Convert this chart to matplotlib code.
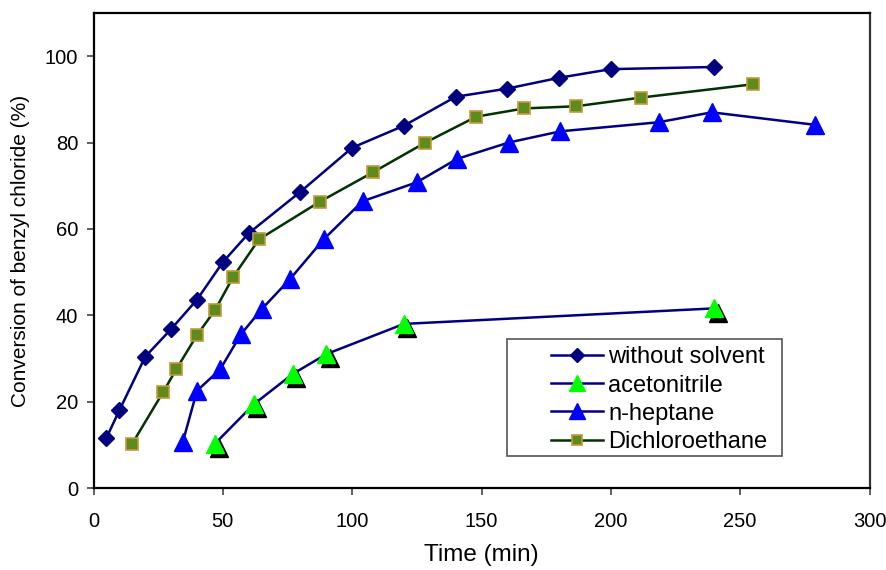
import matplotlib
matplotlib.use("Agg")
from matplotlib import pyplot as plt
from matplotlib import transforms
from matplotlib.patches import Rectangle

plt.rcParams["font.family"] = ["Liberation Sans", "DejaVu Sans"]

# without solvent
t_neat = [5, 10, 20, 30, 40, 50, 60, 80, 100, 120, 140, 160, 180, 200, 240]
c_neat = [11.6, 18.0, 30.4, 36.8, 43.6, 52.3, 59.0, 68.6, 78.8, 83.9, 90.6, 92.5, 95.0, 97.0, 97.5]

# acetonitrile
t_acn = [47, 62, 77, 90, 120, 240]
c_acn = [10.3, 19.4, 26.4, 31.0, 38.0, 41.6]

# n-heptane
t_hep = [34.5, 40, 49, 57, 65, 76, 89, 104, 125, 140.5, 160.5, 180.5, 218.5, 239, 279]
c_hep = [10.6, 22.5, 27.5, 35.6, 41.4, 48.4, 57.6, 66.4, 70.8, 76.2, 80.0, 82.6, 84.7, 87.0, 84.1]

# dichloroethane
t_dce = [15, 27, 32, 40, 47, 54, 64, 87.5, 108, 128, 148, 166.5, 186.5, 211.5, 255]
c_dce = [10.3, 22.3, 27.5, 35.4, 41.2, 48.9, 57.6, 66.3, 73.1, 79.9, 86.0, 87.9, 88.4, 90.4, 93.5]

labels = ["without solvent", "acetonitrile", "n-heptane", "Dichloroethane"]

W, H = 886, 570
fig = plt.figure(figsize=(W / 100, H / 100), dpi=100)
ax = fig.add_axes([93.5 / W, 1 - 488 / H, 776 / W, 475 / H])

navy = "#000080"

# black shadow under the acetonitrile triangles
shadow = transforms.offset_copy(ax.transData, fig=fig, x=2.5, y=-3, units="points")
ax.plot(t_acn, c_acn, ls="none", marker="^", ms=13.5, mfc="black", mec="black",
        transform=shadow, zorder=3)

ax.plot(t_neat, c_neat, color=navy, lw=1.8, marker="D", ms=8.5,
        mfc=navy, mec=navy, label=labels[0], zorder=4)
ax.plot(t_acn, c_acn, color=navy, lw=1.8, marker="^", ms=13.5,
        mfc="#00ff00", mec="#00ff00", label=labels[1], zorder=4)
ax.plot(t_hep, c_hep, color=navy, lw=1.8, marker="^", ms=13.5,
        mfc="#0000ff", mec="#0000ff", label=labels[2], zorder=4)
ax.plot(t_dce, c_dce, color="#003300", lw=1.8, marker="s", ms=8,
        mfc="#5f8a1e", mec="#c49a3a", mew=1.2, label=labels[3], zorder=4)

ax.set_xlim(0, 300)
ax.set_ylim(0, 110)
ax.set_xticks(range(0, 301, 50))
ax.set_yticks(range(0, 101, 20))
ax.tick_params(axis="both", direction="out", length=5, width=1.2,
               color="#444444", labelsize=14.5)
ax.tick_params(axis="x", pad=12)
ax.tick_params(axis="y", pad=6)
for side in ["left", "bottom", "top"]:
    ax.spines[side].set_linewidth(1.6)
    ax.spines[side].set_color("black")
ax.spines["right"].set_linewidth(1.6)
ax.spines["right"].set_color("#333333")

ax.set_xlabel("Time (min)", fontsize=17.5)
ax.set_ylabel("Conversion of benzyl chloride (%)", fontsize=15)
ax.xaxis.set_label_coords(0.5, -0.117)
ax.yaxis.set_label_coords(-0.082, 0.5)

# legend frame drawn separately, it is wider on the left than the text needs
ax.add_patch(Rectangle((0.533, 0.067), 0.354, 0.247, transform=ax.transAxes,
                       fill=False, ec="#555555", lw=1.2, zorder=5))
ax.legend(loc="upper left", bbox_to_anchor=(0.589, 0.298), frameon=False,
          fontsize=17, borderpad=0, borderaxespad=0, handlelength=2.2,
          handletextpad=0.25, labelspacing=0.26, markerscale=0.85)

fig.savefig("out.png", dpi=100)
